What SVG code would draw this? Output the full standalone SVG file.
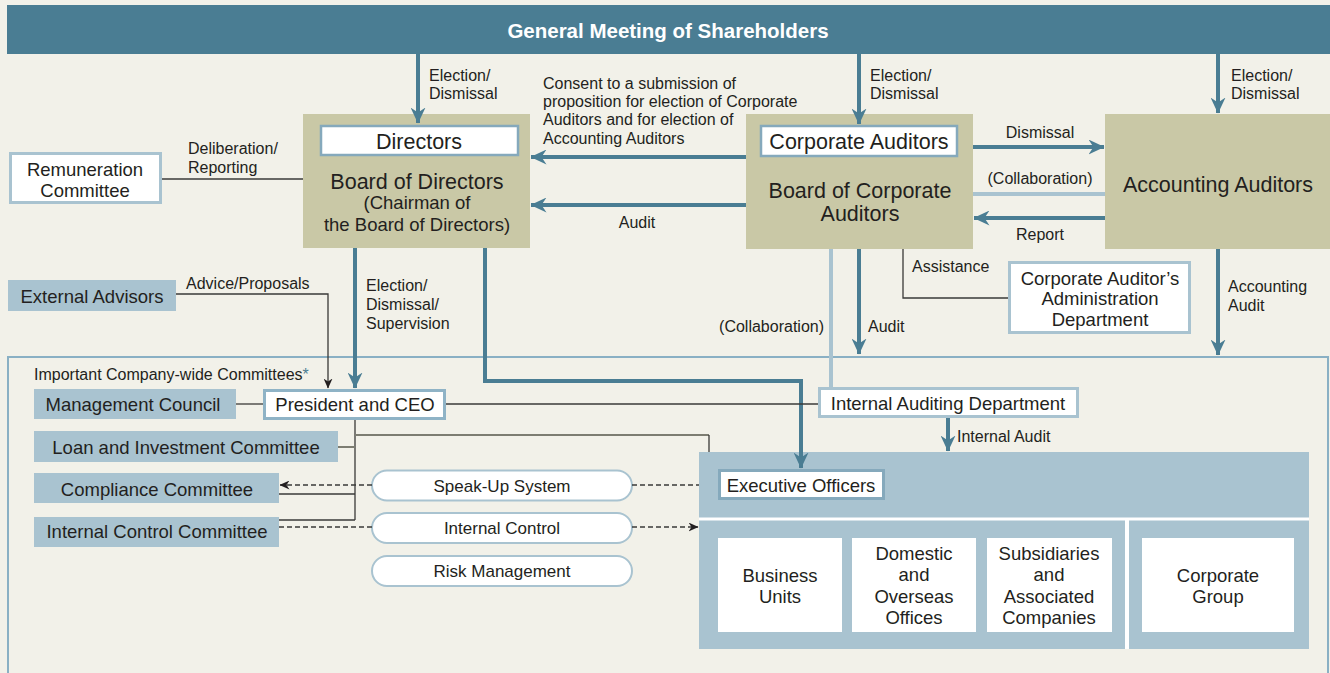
<svg xmlns="http://www.w3.org/2000/svg" width="1330" height="673" viewBox="0 0 1330 673">
<defs>
<style>
text{font-family:"Liberation Sans",Arial,sans-serif;fill:#231f20}
.t16{font-size:16px}
.t18{font-size:18.5px}
.t17{font-size:17px}
.t21{font-size:21.5px}
.m{text-anchor:middle}
.e{text-anchor:end}
.tan{fill:#c9c8a6}
.lb{fill:#a9c3d0}
.wb{fill:#fff;stroke:#a9c3d0;stroke-width:3}
.wd{fill:#fff;stroke:#85a9bc;stroke-width:2.5}
.w{fill:#fff}
.blue{stroke:#4a7d93;stroke-width:4;fill:none}
.lblue{stroke:#a9c3d0;stroke-width:4;fill:none}
.thin{stroke:#3a3a38;stroke-width:1.3;fill:none}
.gray{stroke:#7d7d72;stroke-width:2;fill:none}
.dash{stroke:#3a3a38;stroke-width:1.3;fill:none;stroke-dasharray:5 3}
</style>
<marker id="ab" viewBox="0 0 16 15" refX="15.5" refY="7.5" markerWidth="16" markerHeight="15" markerUnits="userSpaceOnUse" orient="auto">
<path d="M0,0 L16,7.5 L0,15 L5,7.5 z" fill="#4a7d93"/>
</marker>
<marker id="ak" viewBox="0 0 10 9" refX="9.5" refY="4.5" markerWidth="10" markerHeight="9" markerUnits="userSpaceOnUse" orient="auto">
<path d="M0,0 L10,4.5 L0,9 L3,4.5 z" fill="#231f20"/>
</marker>
</defs>
<rect width="1330" height="673" fill="#f2f1e9"/>

<g id="container"><rect x="8" y="357" width="1320" height="330" fill="none" stroke="#8ab0c4" stroke-width="2"/></g>

<g id="gms">
<rect x="7" y="5" width="1323" height="49" fill="#4a7d93"/>
<text class="m" x="668" y="38" style="font-size:20.5px;font-weight:bold;fill:#fff">General Meeting of Shareholders</text>
</g>

<g id="board-of-directors">
<rect class="tan" x="303" y="114" width="227" height="134"/>
<rect class="wd" x="321" y="126" width="197" height="29"/>
<text class="t21 m" x="419" y="148.5">Directors</text>
<text class="t21 m" x="417" y="188.5">Board of Directors</text>
<text class="t18 m" x="417" y="208.5">(Chairman of</text>
<text class="t18 m" x="417" y="230.5">the Board of Directors)</text>
</g>

<g id="board-of-corporate-auditors">
<rect class="tan" x="746" y="114" width="227" height="135"/>
<rect class="wd" x="761" y="126" width="196" height="30"/>
<text class="t21 m" x="859" y="148.5">Corporate Auditors</text>
<text class="t21 m" x="860" y="197.5">Board of Corporate</text>
<text class="t21 m" x="860" y="220.5">Auditors</text>
</g>

<g id="accounting-auditors">
<rect class="tan" x="1105" y="114" width="225" height="135"/>
<text class="t21 m" x="1218" y="191.5">Accounting Auditors</text>
</g>

<g id="remuneration-committee">
<rect class="wb" x="10.5" y="153.5" width="150" height="49"/>
<text class="t18 m" x="85" y="175.5">Remuneration</text>
<text class="t18 m" x="85" y="196.5">Committee</text>
</g>

<g id="admin-department">
<rect class="wb" x="1009.5" y="262.5" width="180" height="70"/>
<text class="t18 m" x="1100" y="284.5">Corporate Auditor’s</text>
<text class="t18 m" x="1100" y="304.5">Administration</text>
<text class="t18 m" x="1100" y="325.5">Department</text>
</g>

<g id="external-advisors">
<rect class="lb" x="8" y="280" width="168" height="31"/>
<text class="t18 m" x="92" y="302.5">External Advisors</text>
</g>

<g id="management-council">
<rect class="lb" x="34" y="389" width="202" height="30"/>
<text class="t18 m" x="133" y="410.5">Management Council</text>
</g>

<g id="president">
<rect class="wd" x="264.5" y="390.5" width="180" height="28" style="stroke:#8fb3c6;stroke-width:3"/>
<text class="t18 m" x="355" y="411">President and CEO</text>
</g>

<g id="internal-auditing">
<rect class="wb" x="819.5" y="388.5" width="258" height="28"/>
<text class="t18 m" x="948" y="409.5">Internal Auditing Department</text>
</g>

<g id="loan-committee">
<rect class="lb" x="34" y="431" width="304" height="31"/>
<text class="t18 m" x="186" y="453.5">Loan and Investment Committee</text>
</g>

<g id="compliance-committee">
<rect class="lb" x="34" y="473" width="245" height="30"/>
<text class="t18 m" x="157" y="496">Compliance Committee</text>
</g>

<g id="internal-control-committee">
<rect class="lb" x="34" y="517" width="245" height="30"/>
<text class="t18 m" x="157" y="538">Internal Control Committee</text>
</g>

<g id="speak-up">
<rect class="wb" x="372" y="470.5" width="260" height="30" rx="15" style="stroke-width:2"/>
<text class="t17 m" x="502" y="492">Speak-Up System</text>
</g>
<g id="internal-control">
<rect class="wb" x="372" y="513" width="260" height="30" rx="15" style="stroke-width:2"/>
<text class="t17 m" x="502" y="534">Internal Control</text>
</g>
<g id="risk-management">
<rect class="wb" x="372" y="556" width="260" height="30" rx="15" style="stroke-width:2"/>
<text class="t17 m" x="502" y="577">Risk Management</text>
</g>

<g id="executive-block">
<rect class="lb" x="699" y="452" width="610" height="197"/>
<line x1="699" y1="519" x2="1309" y2="519" stroke="#fff" stroke-width="3"/>
<line x1="1127" y1="519" x2="1127" y2="649" stroke="#fff" stroke-width="4"/>
</g>

<g id="executive-officers">
<rect class="wd" x="719.5" y="470.5" width="164" height="28" style="stroke:#85a9bc;stroke-width:3"/>
<text class="t18 m" x="801" y="491.5">Executive Officers</text>
</g>

<g id="business-units">
<rect class="w" x="718" y="538" width="124" height="94"/>
<text class="t18 m" x="780" y="581.5">Business</text>
<text class="t18 m" x="780" y="602.5">Units</text>
</g>
<g id="domestic-overseas">
<rect class="w" x="852" y="538" width="124" height="94"/>
<text class="t18 m" x="914" y="559.5">Domestic</text>
<text class="t18 m" x="914" y="580.5">and</text>
<text class="t18 m" x="914" y="602.5">Overseas</text>
<text class="t18 m" x="914" y="623.5">Offices</text>
</g>
<g id="subsidiaries">
<rect class="w" x="987" y="538" width="125" height="94"/>
<text class="t18 m" x="1049" y="559.5">Subsidiaries</text>
<text class="t18 m" x="1049" y="580.5">and</text>
<text class="t18 m" x="1049" y="602.5">Associated</text>
<text class="t18 m" x="1049" y="623.5">Companies</text>
</g>
<g id="corporate-group">
<rect class="w" x="1142" y="538" width="152" height="94"/>
<text class="t18 m" x="1218" y="581.5">Corporate</text>
<text class="t18 m" x="1218" y="602.5">Group</text>
</g>

<g id="connectors">
<line class="blue" x1="418" y1="54" x2="418" y2="123" marker-end="url(#ab)"/>
<line class="blue" x1="859" y1="54" x2="859" y2="124" marker-end="url(#ab)"/>
<line class="blue" x1="1218" y1="54" x2="1218" y2="113" marker-end="url(#ab)"/>
<line class="blue" x1="746" y1="157" x2="531" y2="157" marker-end="url(#ab)"/>
<line class="blue" x1="746" y1="205" x2="531" y2="205" marker-end="url(#ab)"/>
<line class="blue" x1="973" y1="147" x2="1104" y2="147" marker-end="url(#ab)"/>
<line class="lblue" x1="973" y1="194" x2="1105" y2="194"/>
<line class="blue" x1="1105" y1="218" x2="974" y2="218" marker-end="url(#ab)"/>
<line class="thin" x1="162" y1="179" x2="303" y2="179"/>
<polyline class="thin" points="903,249 903,298 1008,298"/>
<line class="blue" x1="1218" y1="249" x2="1218" y2="355" marker-end="url(#ab)"/>
<line class="lblue" x1="831" y1="249" x2="831" y2="387"/>
<line class="blue" x1="859" y1="249" x2="859" y2="354" marker-end="url(#ab)"/>
<line class="blue" x1="355" y1="248" x2="355" y2="388" marker-end="url(#ab)"/>
<polyline class="blue" points="485,248 485,381 801,381 801,468" marker-end="url(#ab)"/>
<polyline class="thin" points="176,294 328,294 328,388" marker-end="url(#ak)"/>
<line class="thin" x1="236" y1="404" x2="263" y2="404"/>
<line class="thin" x1="446" y1="404" x2="818" y2="404"/>
<line class="blue" x1="948" y1="418" x2="948" y2="451" marker-end="url(#ab)"/>
<line class="thin" x1="355" y1="420" x2="355" y2="520"/>
<polyline class="gray" points="355,435 709,435"/>
<line class="thin" x1="709" y1="435" x2="709" y2="452"/>
<line class="gray" x1="338" y1="447" x2="355" y2="447"/>
<line class="thin" x1="279" y1="494" x2="355" y2="494"/>
<line class="thin" x1="279" y1="520" x2="355" y2="520"/>
<line class="dash" x1="372" y1="485" x2="280" y2="485" marker-end="url(#ak)"/>
<line class="dash" x1="632" y1="485" x2="699" y2="485"/>
<line class="dash" x1="279" y1="527" x2="372" y2="527"/>
<line class="dash" x1="632" y1="527" x2="698" y2="527" marker-end="url(#ak)"/>
</g>

<g id="labels">
<text class="t16" x="429" y="80.5">Election/</text>
<text class="t16" x="429" y="99">Dismissal</text>
<text class="t16" x="870" y="80.5">Election/</text>
<text class="t16" x="870" y="99">Dismissal</text>
<text class="t16" x="1231" y="80.5">Election/</text>
<text class="t16" x="1231" y="99">Dismissal</text>
<text class="t16" x="188" y="154">Deliberation/</text>
<text class="t16" x="188" y="173">Reporting</text>
<text class="t16" x="543" y="88.5">Consent to a submission of</text>
<text class="t16" x="543" y="107">proposition for election of Corporate</text>
<text class="t16" x="543" y="125">Auditors and for election of</text>
<text class="t16" x="543" y="143.5">Accounting Auditors</text>
<text class="t16 m" x="637" y="227.5">Audit</text>
<text class="t16 m" x="1040" y="137.5">Dismissal</text>
<text class="t16 m" x="1040" y="183.5">(Collaboration)</text>
<text class="t16 m" x="1040" y="240">Report</text>
<text class="t16" x="912" y="271.5">Assistance</text>
<text class="t16" x="1228" y="291.5">Accounting</text>
<text class="t16" x="1228" y="310.5">Audit</text>
<text class="t16" x="186" y="288.5">Advice/Proposals</text>
<text class="t16" x="366" y="290.5">Election/</text>
<text class="t16" x="366" y="309.5">Dismissal/</text>
<text class="t16" x="366" y="328.5">Supervision</text>
<text class="t16 e" x="824" y="331.5">(Collaboration)</text>
<text class="t16" x="868" y="331.5">Audit</text>
<text class="t16" x="34" y="379.5">Important Company-wide Committees<tspan fill="#4a7d93">*</tspan></text>
<text class="t16" x="957" y="441.5">Internal Audit</text>
</g>
</svg>
